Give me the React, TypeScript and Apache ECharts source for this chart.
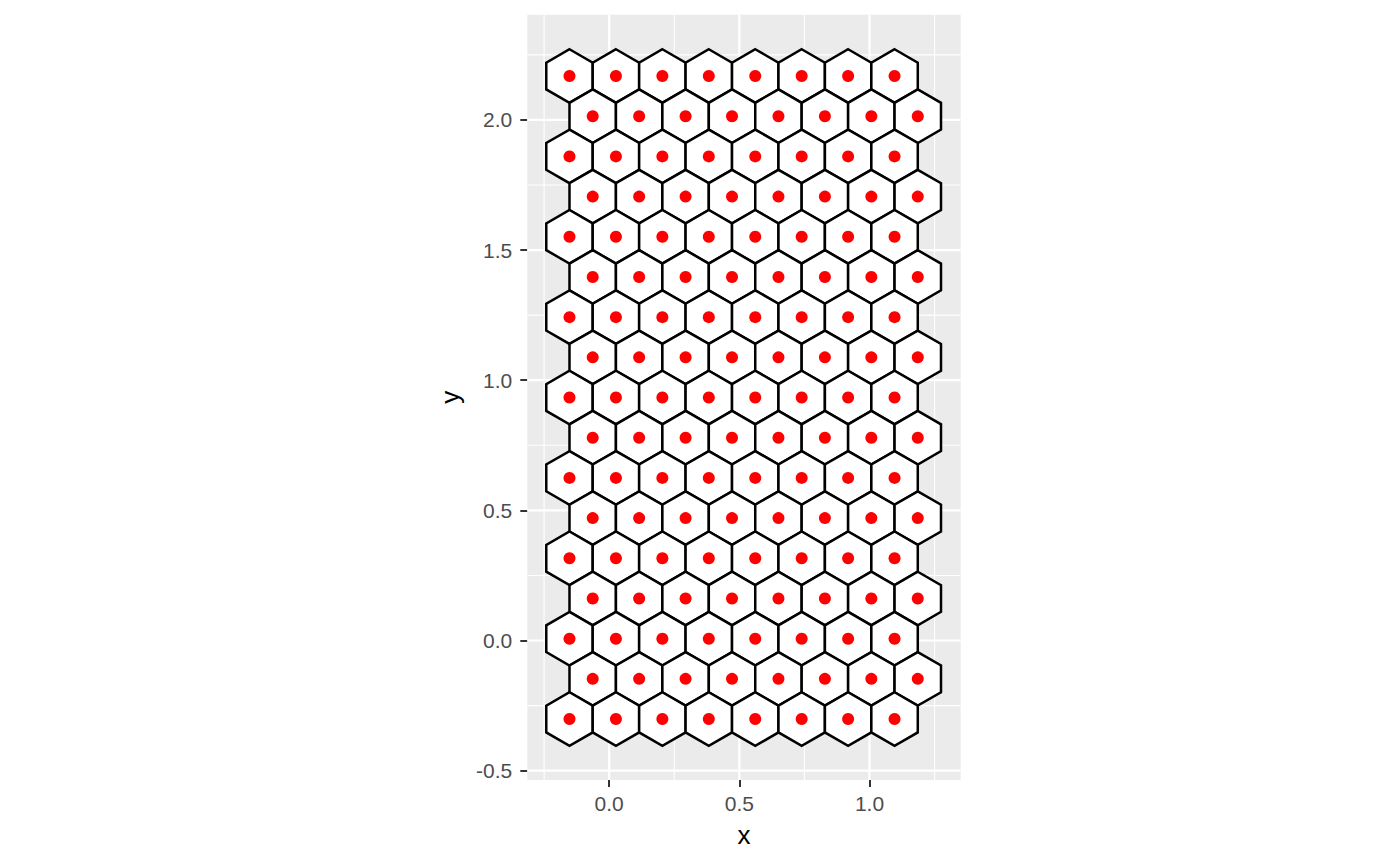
import React, { useEffect, useRef } from "react";
import * as echarts from "echarts";

// Hex-bin centres
const rowY = [
  2.1686, 2.0142, 1.8598, 1.7054, 1.551, 1.3966, 1.2422, 1.0878, 0.9334,
  0.779, 0.6246, 0.4702, 0.3158, 0.1614, 0.007, -0.1474, -0.3018,
];
const xOddRows = [-0.1525, 0.0259, 0.2043, 0.3827, 0.5611, 0.7395, 0.9179, 1.0963];
const xEvenRows = [-0.0633, 0.1151, 0.2935, 0.4719, 0.6503, 0.8287, 1.0071, 1.1855];

// Axis breaks / tick labels
const xMajor = [0, 0.5, 1.0];
const xMinor = [-0.25, 0.25, 0.75, 1.25];
const yMajor = [-0.5, 0, 0.5, 1.0, 1.5, 2.0];
const yMinor = [-0.25, 0.25, 0.75, 1.25, 1.75, 2.25];

const X_MIN = -0.3146;
const X_MAX = 1.3504;
const Y_MIN = -0.5359;
const Y_MAX = 2.4042;

const HEX_R = 0.1029;
const HEX_HW = 0.0892;

const FONT = "'Liberation Sans', Arial, Helvetica, sans-serif";

export default function App() {
  const ref = useRef<HTMLDivElement>(null);

  useEffect(() => {
    if (!ref.current) return;
    const chart = echarts.init(ref.current, undefined, { renderer: "svg" });

    const centres: number[][] = [];
    rowY.forEach((y, i) => {
      const xs = i % 2 === 0 ? xOddRows : xEvenRows;
      xs.forEach((x) => centres.push([x, y]));
    });

    const gridData: number[][] = [];
    xMajor.forEach((v) => gridData.push([v, 0, 1, 1]));
    xMinor.forEach((v) => gridData.push([v, 0, 0, 1]));
    yMajor.forEach((v) => gridData.push([0, v, 1, 0]));
    yMinor.forEach((v) => gridData.push([0, v, 0, 0]));

    const offsets = [
      [0, HEX_R],
      [HEX_HW, HEX_R / 2],
      [HEX_HW, -HEX_R / 2],
      [0, -HEX_R],
      [-HEX_HW, -HEX_R / 2],
      [-HEX_HW, HEX_R / 2],
    ];

    const axisCommon = {
      axisLine: { show: false, onZero: false },
      splitLine: { show: false },
      axisTick: {
        show: true,
        length: 7,
        lineStyle: { color: "#333333", width: 2 },
      },
      axisLabel: {
        color: "#4D4D4D",
        fontSize: 21,
        fontFamily: FONT,
        formatter: (v: number) => v.toFixed(1),
      },
      nameLocation: "middle" as const,
      nameTextStyle: { color: "#000000", fontSize: 26, fontFamily: FONT },
    };

    chart.setOption({
      animation: false,
      backgroundColor: "#ffffff",
      grid: {
        left: 527.3,
        right: 439.3,
        top: 14.7,
        bottom: 85,
        show: true,
        backgroundColor: "#EBEBEB",
        borderWidth: 0,
      },
      xAxis: {
        type: "value",
        min: X_MIN,
        max: X_MAX,
        name: "x",
        nameGap: 42,
        ...axisCommon,
        axisTick: { ...axisCommon.axisTick, customValues: xMajor },
        axisLabel: { ...axisCommon.axisLabel, customValues: xMajor, margin: 13 },
      },
      yAxis: {
        type: "value",
        min: Y_MIN,
        max: Y_MAX,
        name: "y",
        nameGap: 64,
        ...axisCommon,
        axisTick: { ...axisCommon.axisTick, customValues: yMajor },
        axisLabel: { ...axisCommon.axisLabel, customValues: yMajor, margin: 15 },
      },
      series: [
        {
          type: "custom",
          z: 1,
          silent: true,
          data: gridData,
          renderItem: (params: any, api: any) => {
            const cs = params.coordSys;
            const major = api.value(2) === 1;
            const vertical = api.value(3) === 1;
            const p = api.coord([api.value(0), api.value(1)]);
            const shape = vertical
              ? { x1: p[0], y1: cs.y, x2: p[0], y2: cs.y + cs.height }
              : { x1: cs.x, y1: p[1], x2: cs.x + cs.width, y2: p[1] };
            return {
              type: "line",
              shape,
              style: { stroke: "#FFFFFF", lineWidth: major ? 2.2 : 1.1 },
            };
          },
        },
        {
          type: "custom",
          z: 2,
          silent: true,
          data: centres,
          renderItem: (_params: any, api: any) => {
            const x = api.value(0);
            const y = api.value(1);
            const pts = offsets.map(([ox, oy]) => api.coord([x + ox, y + oy]));
            return {
              type: "polygon",
              shape: { points: pts },
              style: { fill: "#FFFFFF", stroke: "#000000", lineWidth: 2.5, lineJoin: "miter" },
            };
          },
        },
        {
          type: "scatter",
          z: 3,
          silent: true,
          data: centres,
          symbol: "circle",
          symbolSize: 12,
          itemStyle: { color: "#FF0000", opacity: 1 },
        },
      ],
    });

    return () => chart.dispose();
  }, []);

  return (
    <div
      ref={ref}
      style={{ position: "fixed", left: 0, top: 0, width: 1400, height: 865, background: "#fff" }}
    />
  );
}
